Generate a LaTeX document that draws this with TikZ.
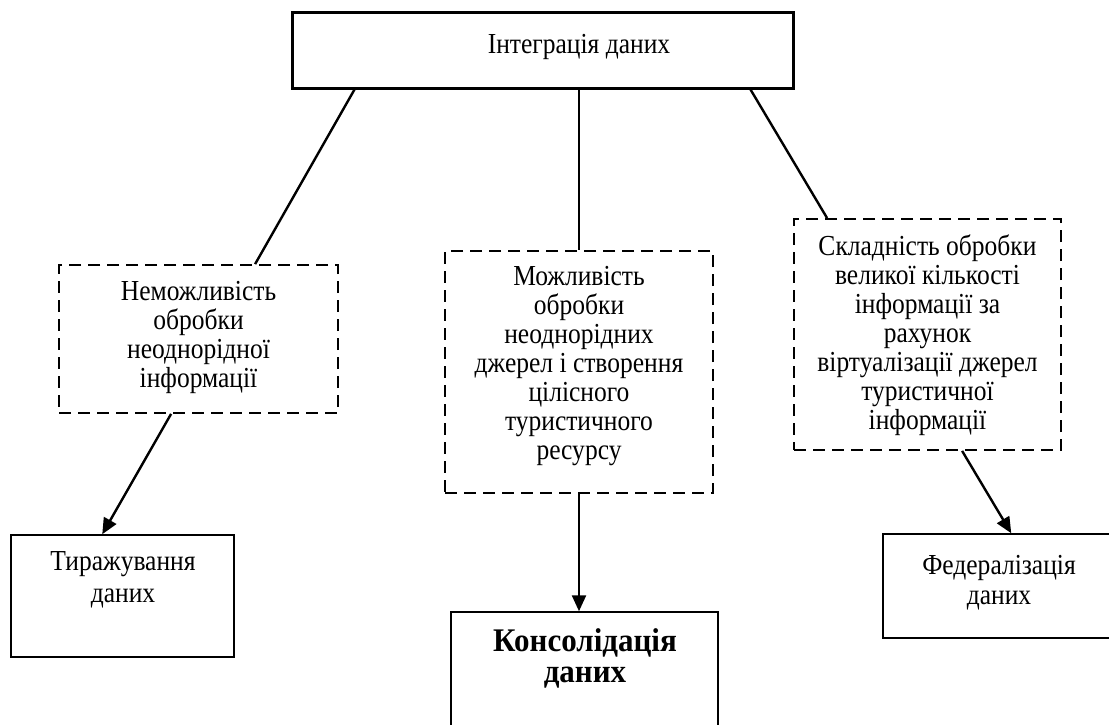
\documentclass[tikz,border=0pt]{standalone}
\usepackage{fontspec}
\setmainfont{Liberation Serif}[FakeStretch=0.88]
\newfontfamily\consfont{Liberation Serif}[FakeStretch=0.94]
\usetikzlibrary{arrows.meta}
\begin{document}
\begin{tikzpicture}[x=1pt,y=-1pt,
  mainbox/.style={draw, line width=3pt, minimum width=501pt, minimum height=76pt, inner sep=0pt},
  dashbox/.style={draw, line width=1.8pt, dash pattern=on 12pt off 7pt, inner sep=0pt},
  plainbox/.style={draw, line width=1.5pt, inner sep=0pt},
  txt/.style={align=center, font=\fontsize{29pt}{29pt}\selectfont, inner sep=0pt},
  link/.style={line width=2.4pt},
  arr/.style={line width=2.4pt, -{Triangle[length=16pt,width=14pt]}}
]
\useasboundingbox (0,0) rectangle (1109,724);
\fill[white] (0,0) rectangle (1109,724);

\node[mainbox] (top) at (542.5,50) {};
\node[txt] (ttop) at (579,47) {Інтеграція даних};

\node[dashbox, minimum width=279pt, minimum height=148pt] (b1) at (198.5,339) {};
\node[txt] (tb1) at (198.5,337) {Неможливість\\обробки\\неоднорідної\\інформації};

\node[dashbox, minimum width=268pt, minimum height=242pt] (b2) at (579,372) {};
\node[txt] (tb2) at (579,366) {Можливість\\обробки\\неоднорідних\\джерел і створення\\цілісного\\туристичного\\ресурсу};

\node[dashbox, minimum width=267pt, minimum height=231pt] (b3) at (927.5,334.5) {};
\node[txt] (tb3) at (927.5,335) {Складність обробки\\великої кількості\\інформації за\\рахунок\\віртуалізації джерел\\туристичної\\інформації};

\node[plainbox, minimum width=223pt, minimum height=122pt] (c1) at (122.5,596) {};
\node[txt, font=\fontsize{29pt}{32pt}\selectfont] (tc1) at (123,580) {Тиражування\\даних};

\node[plainbox, minimum width=267pt, minimum height=133pt] (c2) at (584.5,678.5) {};
\node[txt, font=\consfont\fontsize{33pt}{31pt}\selectfont\bfseries] (tc2) at (585,658) {Консолідація\\даних};

\node[plainbox, minimum width=232pt, minimum height=104pt] (c3) at (999,586) {};
\node[txt, font=\fontsize{29pt}{30pt}\selectfont] (tc3) at (999,583) {Федералізація\\даних};

\draw[link] ([xshift=64pt]top.south west) -- ([xshift=197pt]b1.north west);
\draw[link] (b2.north |- top.south) -- (b2.north);
\draw[link] ([xshift=460pt]top.south west) -- ([xshift=34pt]b3.north west);

\draw[arr] ([xshift=113pt]b1.south west) -- ([xshift=92pt]c1.north west);
\draw[arr] (b2.south) -- (b2.south |- c2.north);
\draw[arr] ([xshift=169pt]b3.south west) -- ([xshift=129pt]c3.north west);
\end{tikzpicture}
\end{document}
